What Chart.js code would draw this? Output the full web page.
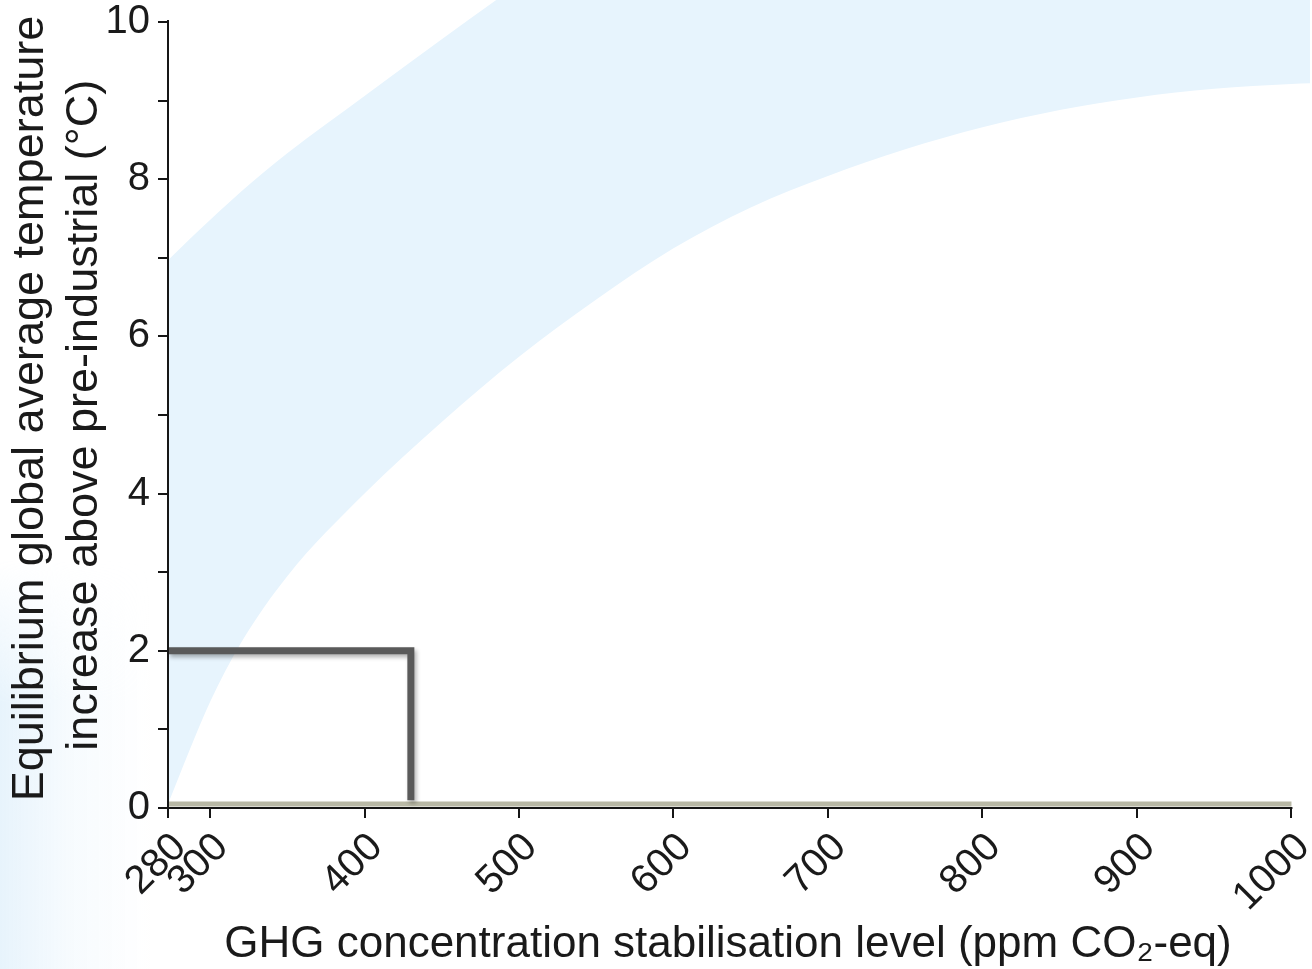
<!DOCTYPE html>
<html>
<head>
<meta charset="utf-8">
<script src="https://cdn.jsdelivr.net/npm/chart.js@4.4.1/dist/chart.umd.min.js"></script>
<style>
  html, body { margin: 0; padding: 0; background: #fff; }
  #wrap { position: relative; width: 1312px; height: 969px; }
  #tint {
    position: absolute; left: 0; top: 560px; width: 150px; height: 409px;
    background: linear-gradient(to right, rgba(230,243,252,0.95), rgba(230,243,252,0.35) 45%, rgba(230,243,252,0));
    -webkit-mask-image: linear-gradient(to bottom, transparent, #000 35%);
    mask-image: linear-gradient(to bottom, transparent, #000 35%);
  }
  #chart { position: relative; }
</style>
</head>
<body>
<div id="wrap"><div id="tint"></div><canvas id="chart"></canvas></div>
<script>
// likely range of equilibrium warming for each stabilisation level
const bandPpm   = [280, 290, 300, 320, 350, 400, 450, 500, 550, 600, 650, 700, 750, 800, 850, 900, 950, 1000, 1012];
const bandLower = [0.05, 0.72, 1.35, 2.1, 2.95, 4.0, 4.91, 5.74, 6.47, 7.12, 7.64, 8.04, 8.38, 8.66, 8.88, 9.04, 9.15, 9.21, 9.22];
const bandUpper = [6.97, 7.23, 7.48, 7.84, 8.33, 9.06, 9.78, 10.48, 11.1, 11.6, 12.0, 12.35, 12.65, 12.9, 13.1, 13.3, 13.45, 13.6, 13.63];

// 2 degree target marker
const stepPpm  = [280, 430, 430];
const stepTemp = [2, 2, 0.1];

// pre-industrial baseline
const basePpm  = [280, 1000];
const baseTemp = [0.05, 0.05];

const xTicks = [280, 300, 400, 500, 600, 700, 800, 900, 1000];
const yTicks = [0, 1, 2, 3, 4, 5, 6, 7, 8, 9, 10];

// the original axis is stretched between 280 and 300
const warpBreak = 300;
const warpStretch = 1.36;
const warp = v => v >= warpBreak ? v : warpBreak - (warpBreak - v) * warpStretch;
const unwarp = u => u >= warpBreak ? u : warpBreak - (warpBreak - u) / warpStretch;

class PpmScale extends Chart.LinearScale {
    configure() {
        super.configure();
        this._startValue = warp(this.min);
        this._valueRange = warp(this.max) - this._startValue;
    }
    getPixelForValue(value) {
        return value === null ? NaN : this.getPixelForDecimal((warp(value) - this._startValue) / this._valueRange);
    }
    getValueForPixel(pixel) {
        return unwarp(this._startValue + this.getDecimalForPixel(pixel) * this._valueRange);
    }
}
PpmScale.id = 'ppm';
PpmScale.defaults = {};
Chart.register(PpmScale);

const pts = (xs, ys) => xs.map((x, i) => ({ x, y: ys[i] }));

// axis lines only span the labelled range
const axisLines = {
    id: 'axisLines',
    afterDatasetsDraw(chart) {
        const { ctx, scales: { x, y } } = chart;
        const x0 = x.getPixelForValue(xTicks[0]);
        const x1 = x.getPixelForValue(xTicks[xTicks.length - 1]);
        const y0 = y.getPixelForValue(yTicks[0]);
        const y1 = y.getPixelForValue(yTicks[yTicks.length - 1]);
        ctx.save();
        ctx.strokeStyle = '#161616';
        ctx.lineWidth = 2;
        ctx.beginPath();
        ctx.moveTo(x0, y1 - 2);
        ctx.lineTo(x0, y0);
        ctx.lineTo(x1 + 1, y0);
        ctx.stroke();
        ctx.restore();
    }
};

// soft drop shadow under the 2 degree marker
const stepShadow = {
    id: 'stepShadow',
    beforeDatasetDraw(chart, args) {
        if (args.index !== 0) return;
        const ctx = chart.ctx;
        ctx.save();
        ctx.shadowColor = 'rgba(0,0,0,0.3)';
        ctx.shadowBlur = 4;
        ctx.shadowOffsetX = 2;
        ctx.shadowOffsetY = 3;
    },
    afterDatasetDraw(chart, args) {
        if (args.index === 0) chart.ctx.restore();
    }
};

const tickFont = { family: 'Liberation Sans', size: 40 };
const titleFont = { family: 'Liberation Sans', size: 45, lineHeight: 1.2 };

new Chart(document.getElementById('chart'), {
    type: 'line',
    data: {
        datasets: [
            {
                label: '2°C',
                data: pts(stepPpm, stepTemp),
                borderColor: '#5a5a5a',
                borderWidth: 7,
                borderJoinStyle: 'miter',
                pointRadius: 0,
                fill: false,
                order: 0,
            },
            {
                label: 'baseline',
                data: pts(basePpm, baseTemp),
                borderColor: '#b9b9a6',
                borderWidth: 5,
                pointRadius: 0,
                fill: false,
                order: 1,
            },
            {
                label: 'upper',
                data: pts(bandPpm, bandUpper),
                borderColor: 'rgba(0,0,0,0)',
                borderWidth: 0,
                backgroundColor: '#e7f4fd',
                pointRadius: 0,
                cubicInterpolationMode: 'monotone',
                fill: '+1',
                order: 2,
            },
            {
                label: 'lower',
                data: pts(bandPpm, bandLower),
                borderColor: 'rgba(0,0,0,0)',
                borderWidth: 0,
                pointRadius: 0,
                cubicInterpolationMode: 'monotone',
                fill: false,
                order: 3,
            },
        ],
    },
    plugins: [axisLines, stepShadow],
    options: {
        responsive: true,
        maintainAspectRatio: false,
        animation: false,
        layout: { padding: { left: 0, top: 0, right: 2, bottom: 0 } },
        plugins: { legend: { display: false }, tooltip: { enabled: false } },
        scales: {
            x: {
                type: 'ppm',
                min: 280,
                max: 1012,
                border: { display: false },
                grid: { drawOnChartArea: false, drawTicks: true, tickLength: 10, color: '#161616', lineWidth: 2 },
                afterBuildTicks: s => { s.ticks = xTicks.map(v => ({ value: v })); },
                afterFit: s => { s.height = 161; s.paddingLeft = 0; s.paddingRight = 0; },
                ticks: {
                    autoSkip: false,
                    minRotation: 45,
                    maxRotation: 45,
                    padding: 6,
                    labelOffset: 12,
                    color: '#1a1a1a',
                    font: tickFont,
                    callback: v => String(v),
                },
                title: {
                    display: true,
                    text: 'GHG concentration stabilisation level (ppm CO\u2082-eq)\u2002',
                    color: '#1a1a1a',
                    font: { family: 'Liberation Sans', size: 44, lineHeight: 1.1 },
                    padding: { top: 0, bottom: 0 },
                },
            },
            y: {
                type: 'linear',
                min: 0,
                max: 10.28,
                border: { display: false },
                grid: { drawOnChartArea: false, drawTicks: true, tickLength: 10, color: '#161616', lineWidth: 2 },
                afterBuildTicks: s => { s.ticks = yTicks.map(v => ({ value: v })); },
                afterFit: s => { s.width = 168; s.paddingTop = 0; s.paddingBottom = 0; },
                ticks: {
                    autoSkip: false,
                    padding: 8,
                    color: '#1a1a1a',
                    font: tickFont,
                    callback: v => (v % 2 === 0 ? String(v) : ''),
                },
                title: {
                    display: true,
                    text: ['Equilibrium global average temperature\u2009', 'increase above pre-industrial (°C)\u2002'],
                    color: '#1a1a1a',
                    font: titleFont,
                    padding: { top: 4, bottom: 0 },
                },
            },
        },
    },
});
</script>
</body>
</html>
